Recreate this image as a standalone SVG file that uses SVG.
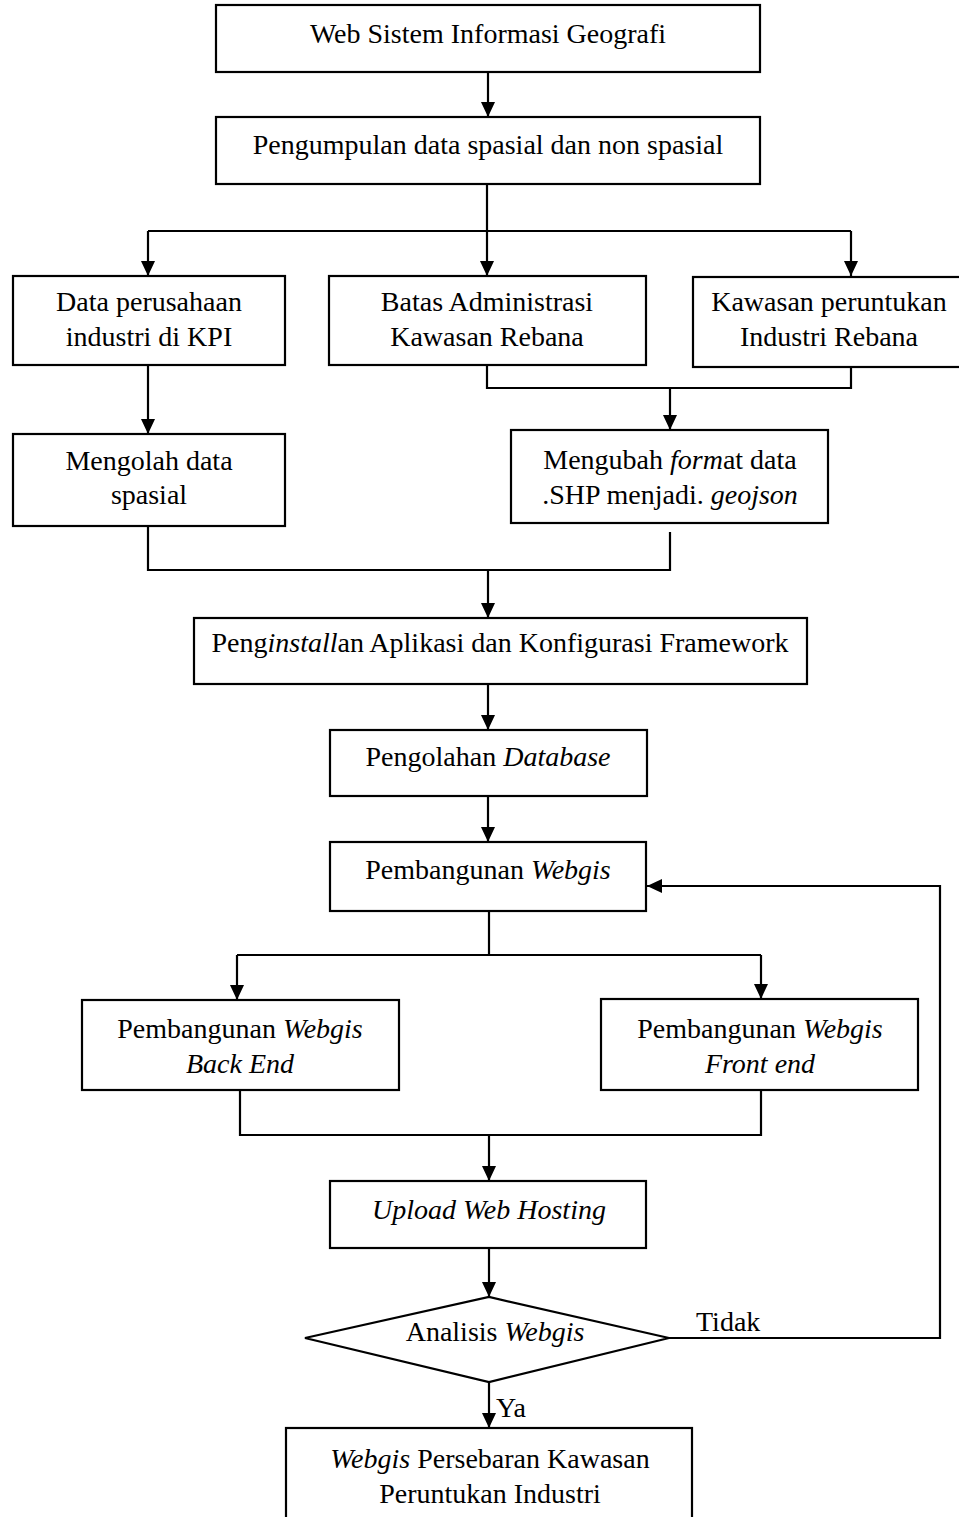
<svg xmlns="http://www.w3.org/2000/svg" width="959" height="1517" viewBox="0 0 959 1517">
  <style>
    .box { fill: #ffffff; stroke: #000000; stroke-width: 2.2; }
    .line { fill: none; stroke: #000000; stroke-width: 2.2; }
    .arrow { fill: none; stroke: #000000; stroke-width: 2.2; marker-end: url(#head); }
    text { font-family: "Liberation Serif", "Times New Roman", serif; font-size: 28px; fill: #000000; text-anchor: middle; }
    .it { font-style: italic; }
    .lbl { text-anchor: start; }
  </style>
  <defs>
    <marker id="head" markerWidth="15" markerHeight="14" refX="15" refY="7" orient="auto" markerUnits="userSpaceOnUse" viewBox="0 0 15 14">
      <path d="M0,0 L15,7 L0,14 Z" fill="#000000"/>
    </marker>
  </defs>
  <rect width="959" height="1517" fill="#ffffff"/>

  <!-- connectors -->
  <g id="connectors">
    <line class="arrow" x1="488" y1="72" x2="488" y2="117"/>
    <polyline class="line" points="487,184 487,231"/>
    <polyline class="line" points="148,231 851,231"/>
    <line class="arrow" x1="148" y1="231" x2="148" y2="276"/>
    <line class="arrow" x1="487" y1="231" x2="487" y2="276"/>
    <line class="arrow" x1="851" y1="231" x2="851" y2="276"/>
    <polyline class="line" points="487,365 487,388 851,388 851,367"/>
    <line class="arrow" x1="670" y1="388" x2="670" y2="430"/>
    <line class="arrow" x1="148" y1="365" x2="148" y2="434"/>
    <polyline class="line" points="148,526 148,570 670,570 670,532"/>
    <line class="arrow" x1="488" y1="570" x2="488" y2="618"/>
    <line class="arrow" x1="488" y1="684" x2="488" y2="730"/>
    <line class="arrow" x1="488" y1="796" x2="488" y2="842"/>
    <polyline class="line" points="489,911 489,955"/>
    <polyline class="line" points="237,955 761,955"/>
    <line class="arrow" x1="237" y1="955" x2="237" y2="1000"/>
    <line class="arrow" x1="761" y1="955" x2="761" y2="999"/>
    <polyline class="line" points="240,1090 240,1135 761,1135 761,1090"/>
    <line class="arrow" x1="489" y1="1135" x2="489" y2="1181"/>
    <line class="arrow" x1="489" y1="1248" x2="489" y2="1297"/>
    <polyline class="arrow" points="669,1338 940,1338 940,886 647,886"/>
    <line class="arrow" x1="489" y1="1382" x2="489" y2="1428"/>
    <text class="lbl" x="696" y="1331">Tidak</text>
    <text class="lbl" x="496" y="1417">Ya</text>
  </g>

  <g id="web-sig">
    <rect class="box" x="216" y="5" width="544" height="67"/>
    <text x="488" y="43">Web Sistem Informasi Geografi</text>
  </g>

  <g id="pengumpulan">
    <rect class="box" x="216" y="117" width="544" height="67"/>
    <text x="488" y="154">Pengumpulan data spasial dan non spasial</text>
  </g>

  <g id="data-perusahaan">
    <rect class="box" x="13" y="276" width="272" height="89"/>
    <text x="149" y="311">Data perusahaan</text>
    <text x="149" y="346">industri di KPI</text>
  </g>

  <g id="batas-administrasi">
    <rect class="box" x="329" y="276" width="317" height="89"/>
    <text x="487" y="311">Batas Administrasi</text>
    <text x="487" y="346">Kawasan Rebana</text>
  </g>

  <g id="kawasan-peruntukan">
    <rect class="box" x="693" y="277" width="268" height="90"/>
    <text x="829" y="311">Kawasan peruntukan</text>
    <text x="829" y="346">Industri Rebana</text>
  </g>

  <g id="mengolah-data">
    <rect class="box" x="13" y="434" width="272" height="92"/>
    <text x="149" y="470">Mengolah data</text>
    <text x="149" y="504">spasial</text>
  </g>

  <g id="mengubah-format">
    <rect class="box" x="511" y="430" width="317" height="93"/>
    <text x="670" y="469">Mengubah <tspan class="it">form</tspan>at data</text>
    <text x="670" y="504">.SHP menjadi. <tspan class="it">geojson</tspan></text>
  </g>

  <g id="penginstallan">
    <rect class="box" x="194" y="618" width="613" height="66"/>
    <text x="500" y="652">Peng<tspan class="it">install</tspan>an Aplikasi dan Konfigurasi Framework</text>
  </g>

  <g id="pengolahan-database">
    <rect class="box" x="330" y="730" width="317" height="66"/>
    <text x="488" y="766">Pengolahan <tspan class="it">Database</tspan></text>
  </g>

  <g id="pembangunan-webgis">
    <rect class="box" x="330" y="842" width="316" height="69"/>
    <text x="488" y="879">Pembangunan <tspan class="it">Webgis</tspan></text>
  </g>

  <g id="back-end">
    <rect class="box" x="82" y="1000" width="317" height="90"/>
    <text x="240" y="1038">Pembangunan <tspan class="it">Webgis</tspan></text>
    <text x="240" y="1073" class="it">Back End</text>
  </g>

  <g id="front-end">
    <rect class="box" x="601" y="999" width="317" height="91"/>
    <text x="760" y="1038">Pembangunan <tspan class="it">Webgis</tspan></text>
    <text x="760" y="1073" class="it">Front end</text>
  </g>

  <g id="upload-hosting">
    <rect class="box" x="330" y="1181" width="316" height="67"/>
    <text x="489" y="1219" class="it">Upload Web Hosting</text>
  </g>

  <g id="analisis-webgis">
    <polygon class="box" points="305,1338 489,1297 669,1338 489,1382"/>
    <text x="495" y="1341">Analisis <tspan class="it">Webgis</tspan></text>
  </g>

  <g id="hasil-webgis">
    <rect class="box" x="286" y="1428" width="406" height="95"/>
    <text x="490" y="1468"><tspan class="it">Webgis</tspan> Persebaran Kawasan</text>
    <text x="490" y="1503">Peruntukan Industri</text>
  </g>
</svg>
